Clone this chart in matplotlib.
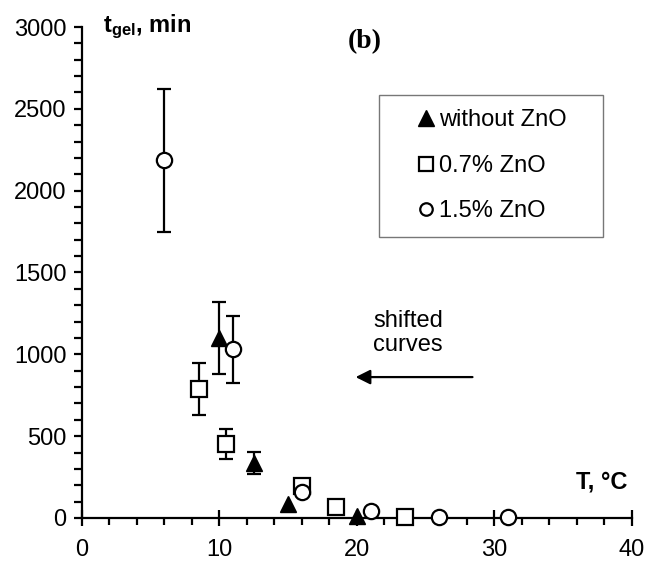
import numpy as np
import matplotlib
matplotlib.use('Agg')
import matplotlib.pyplot as plt
from matplotlib.lines import Line2D

plt.rcParams['font.family'] = ['Liberation Sans', 'DejaVu Sans']
plt.rcParams['mathtext.fontset'] = 'custom'
plt.rcParams['mathtext.rm'] = 'Liberation Sans'
plt.rcParams['mathtext.bf'] = 'Liberation Sans:bold'

# gel time vs temperature
tri_x = [10, 12.5, 15, 20]
tri_y = [1100, 336, 84, 12]
tri_err = [220, 67, 0, 0]

sq_x = [8.5, 10.5, 16, 18.5, 23.5]
sq_y = [790, 452, 195, 68, 6]
sq_err = [160, 90, 0, 0, 0]

circ_x = [6, 11, 16, 21, 26, 31]
circ_y = [2185, 1030, 157, 45, 6, 6]
circ_err = [435, 205, 0, 0, 0, 0]

labels = ['without ZnO', '0.7% ZnO', '1.5% ZnO']

fs = 17
fig = plt.figure(figsize=(6.47, 5.65), dpi=100)
ax = fig.add_axes([0.1267, 0.0832, 0.8501, 0.869])

# error bars behind the markers
for x, y, e in [(tri_x, tri_y, tri_err), (sq_x, sq_y, sq_err), (circ_x, circ_y, circ_err)]:
    x = np.array(x); y = np.array(y); e = np.array(e)
    m = e > 0
    ax.errorbar(x[m], y[m], yerr=e[m], fmt='none', ecolor='black',
                elinewidth=1.6, capsize=4.8, capthick=1.6, zorder=2)

ax.plot(tri_x, tri_y, linestyle='none', marker='^', markersize=12,
        color='black', zorder=3, clip_on=False)
ax.plot(sq_x, sq_y, linestyle='none', marker='s', markersize=11.5,
        markerfacecolor='white', markeredgecolor='black', markeredgewidth=1.6,
        zorder=3, clip_on=False)
ax.plot(circ_x, circ_y, linestyle='none', marker='o', markersize=11,
        markerfacecolor='white', markeredgecolor='black', markeredgewidth=1.6,
        zorder=4, clip_on=False)

ax.set_xlim(0, 40)
ax.set_ylim(0, 3000)
ax.set_xticks(np.arange(0, 41, 10))
ax.set_xticks(np.arange(0, 41, 2), minor=True)
ax.set_yticks(np.arange(0, 3001, 500))
ax.set_yticks(np.arange(0, 3001, 100), minor=True)

for s in ['top', 'right']:
    ax.spines[s].set_visible(False)
for s in ['left', 'bottom']:
    ax.spines[s].set_linewidth(1.6)

ax.tick_params(axis='x', which='major', direction='inout', length=12, width=1.6,
               labelsize=fs, pad=9)
ax.tick_params(axis='x', which='minor', direction='out', length=5, width=1.6)
ax.tick_params(axis='y', which='both', direction='out', length=6, width=1.6)
ax.tick_params(axis='y', which='major', labelsize=fs, pad=5)

ax.text(1.5, 3000, r'$\mathbf{t_{gel}}$, min', fontsize=fs, fontweight='bold',
        ha='left', va='center')
ax.text(39.7, 220, 'T, °C', fontsize=fs, fontweight='bold', ha='right', va='center')
ax.text(20.6, 2910, '(b)', fontsize=20, fontweight='bold', family='Liberation Serif',
        ha='center', va='center')

ax.text(21.2, 1130, 'shifted\ncurves', fontsize=fs, ha='left', va='center',
        linespacing=1.15)
ax.annotate('', xy=(19.9, 861), xytext=(28.4, 861),
            arrowprops=dict(arrowstyle='-|>', color='black', lw=1.6,
                            mutation_scale=22, shrinkA=0, shrinkB=0))

handles = [
    Line2D([], [], linestyle='none', marker='^', markersize=11, color='black'),
    Line2D([], [], linestyle='none', marker='s', markersize=10,
           markerfacecolor='white', markeredgecolor='black', markeredgewidth=1.6),
    Line2D([], [], linestyle='none', marker='o', markersize=9,
           markerfacecolor='white', markeredgecolor='black', markeredgewidth=1.6),
]
leg = ax.legend(handles, labels, loc='upper left',
                bbox_to_anchor=(0.54, 0.8615, 0.407, 0.0), mode='expand',
                fontsize=fs, frameon=True, fancybox=False, borderpad=0.6,
                labelspacing=1.0, handlelength=2.8, handletextpad=-0.85,
                borderaxespad=0)
leg.get_frame().set_edgecolor('#555555')
leg.get_frame().set_linewidth(1.0)
leg._legend_box.align = 'left'

fig.savefig('out.png', dpi=100)
